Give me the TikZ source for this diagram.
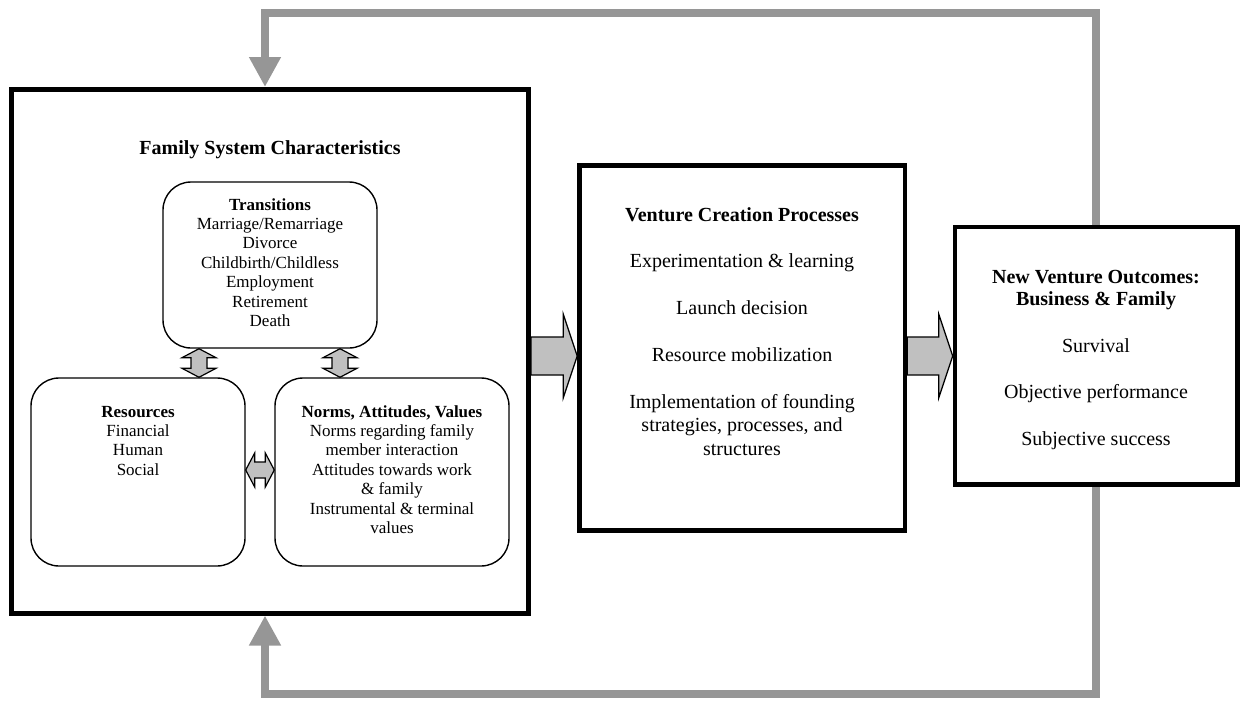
\documentclass[tikz,border=0pt]{standalone}
\usepackage{fontspec}
\setmainfont{Liberation Serif}
\usetikzlibrary{arrows.meta,calc}
\pgfdeclarelayer{background}
\pgfsetlayers{background,main}
\definecolor{fbgray}{RGB}{150,150,150}
\definecolor{agray}{RGB}{192,192,192}
\newcommand{\vdblarrow}[2]{%
  \draw[blk] (#1) -- ++(17,9) -- ++(-9,0) -- ($(#2)+(8,-9)$) -- ++(9,0) -- (#2)
    -- ++(-17,-9) -- ++(9,0) -- ($(#1)+(-8,9)$) -- ++(-9,0) -- cycle;}
\newcommand{\hdblarrow}[2]{%
  \draw[blk] (#1) -- ++(9,-17) -- ++(0,9) -- ($(#2)+(-9,-8)$) -- ++(0,-9) -- (#2)
    -- ++(-9,17) -- ++(0,-9) -- ($(#1)+(9,8)$) -- ++(0,9) -- cycle;}
\newcommand{\hblockarrow}[2]{%
  \draw[blk] ($(#1)+(0,-19)$) -- ($(#2)+(-14,-19)$) -- ($(#2)+(-14,-42)$) -- (#2)
    -- ($(#2)+(-14,42)$) -- ($(#2)+(-14,19)$) -- ($(#1)+(0,19)$) -- cycle;}
\begin{document}
\begin{tikzpicture}[x=1pt,y=-1pt,
  bigbox/.style={draw=black, line width=4.6pt, inner sep=0pt, fill=white},
  rbox/.style={draw=black, line width=1.4pt, rounded corners=28pt, inner sep=0pt},
  fb/.style={draw=fbgray, line width=8pt, line join=miter, -{Triangle[width=30pt,length=30pt]}},
  blk/.style={draw=black, line width=1.2pt, fill=agray, line join=miter},
  bigtxt/.style={font=\fontsize{20}{23.4}\selectfont, align=center, inner sep=0pt},
  smalltxt/.style={font=\fontsize{17}{19.4}\selectfont, align=center, inner sep=0pt}]
\useasboundingbox (0,0) rectangle (1240,702);

% main boxes
\node[bigbox, line width=5pt, minimum width=517pt, minimum height=523.5pt] (fam) at (270,351.25) {};
\node[bigbox, minimum width=325.5pt, minimum height=365pt] (vcp) at (742.25,348) {};
\node[bigbox, minimum width=282.5pt, minimum height=257.5pt] (ob) at (1096.25,355.75) {};

% inner rounded boxes
\node[rbox, minimum width=214pt, minimum height=166pt] (tr) at (270,265) {};
\node[rbox, minimum width=214pt, minimum height=188pt] (res) at (138,472) {};
\node[rbox, minimum width=234pt, minimum height=188pt] (nav) at (392,472) {};

% texts (anchor=base of a multi-line node = baseline of its last line)
\node[bigtxt, anchor=base] (famt) at (270,154) {\textbf{Family System Characteristics}};
\node[smalltxt, anchor=base] (trt) at (270,326.4) {\textbf{Transitions}\\Marriage/Remarriage\\Divorce\\Childbirth/Childless\\Employment\\Retirement\\Death};
\node[smalltxt, anchor=base] (rest) at (138,475.2) {\textbf{Resources}\\Financial\\Human\\Social};
\node[smalltxt, anchor=base] (navt) at (392,533.4) {\textbf{Norms, Attitudes, Values}\\Norms regarding family\\member interaction\\Attitudes towards work\\\& family\\Instrumental \& terminal\\values};
\node[bigtxt, anchor=base] (vcpt) at (742,455) {\textbf{Venture Creation Processes}\\[23.4pt]Experimentation \& learning\\[23.4pt]Launch decision\\[23.4pt]Resource mobilization\\[23.4pt]Implementation of founding\\strategies, processes, and\\structures};
\node[bigtxt, anchor=base] (obt) at (1096,445.6) {\textbf{New Venture Outcomes:}\\[-1.4pt]\textbf{Business \& Family}\\[23.4pt]Survival\\[23.4pt]Objective performance\\[23.4pt]Subjective success};

% helper coordinates
\coordinate (ay) at (0,356);
\coordinate (hy) at (0,470);
\coordinate (d1t) at ($(tr.south)+(-71,0)$);
\coordinate (d1b) at (d1t |- res.north);
\coordinate (d2t) at ($(tr.south)+(70,0)$);
\coordinate (d2b) at (d2t |- nav.north);
\coordinate (topin) at (fam.north -| 265,0);
\coordinate (botin) at (fam.south -| 265,0);

\begin{pgfonlayer}{background}
  % feedback connectors
  \draw[fb] (ob.north) -- (ob.north |- 0,13) -| (topin);
  \draw[fb] (ob.south) -- (ob.south |- 0,694) -| (botin);
  % block arrows between boxes
  \hblockarrow{fam.east |- ay}{vcp.west |- ay}
  \hblockarrow{vcp.east |- ay}{ob.west |- ay}
\end{pgfonlayer}

% double arrows
\vdblarrow{d1t}{d1b}
\vdblarrow{d2t}{d2b}
\hdblarrow{res.east |- hy}{nav.west |- hy}
\end{tikzpicture}
\end{document}
